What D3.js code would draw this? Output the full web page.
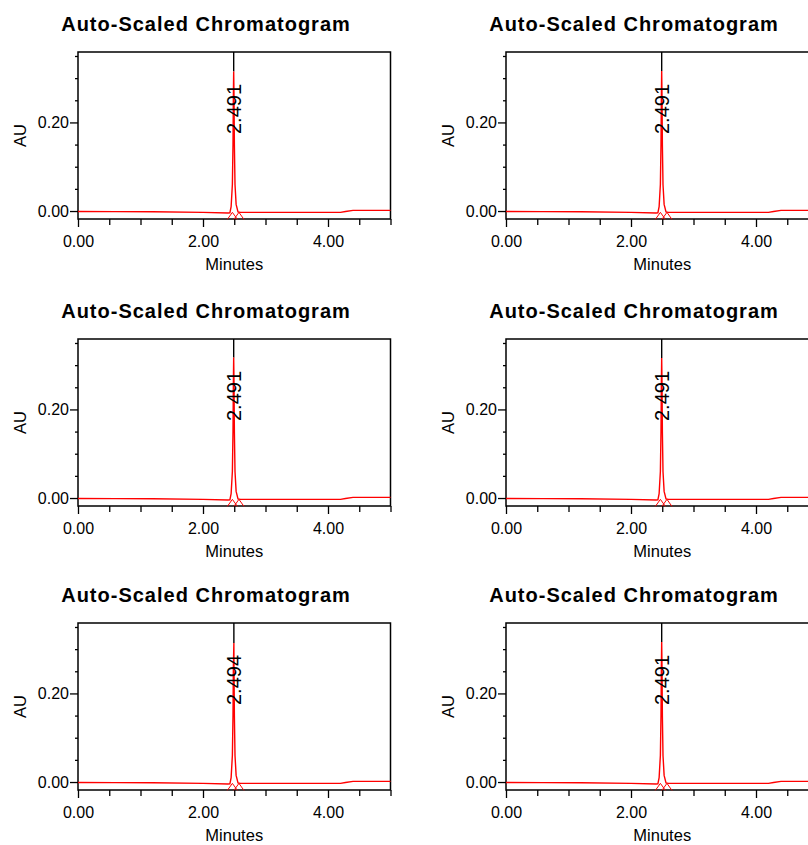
<!DOCTYPE html>
<html>
<head>
<meta charset="utf-8">
<script src="https://cdn.jsdelivr.net/npm/d3@7"></script>
<style>
  body { margin: 0; background: #fff; }
  svg { display: block; }
  text { font-family: "Liberation Sans", Arial, sans-serif; fill: #000; }
</style>
</head>
<body>
<svg id="chart" width="808" height="845"></svg>
<script>
// Six auto-scaled chromatograms (2 columns x 3 rows), one peak each.
var TITLE = "Auto-Scaled Chromatogram";
var X_LABEL = "Minutes", Y_LABEL = "AU";

// retention time label and apex height (AU) per panel, row by row
var PEAK_RT = [2.491, 2.491, 2.491, 2.491, 2.494, 2.491];
var PEAK_AU = [0.315, 0.316, 0.317, 0.316, 0.314, 0.316];

// trace (minutes / AU); the apex slot is filled per panel
var TRACE_MIN = [0.00, 0.60, 1.20, 2.00, 2.40, 2.43, 2.45, 2.47, 2.48, 2.486,
                 null, 2.496, 2.502, 2.512, 2.53, 2.56, 2.60, 3.50, 4.20, 4.28, 4.40, 5.00];
var TRACE_AU  = [-0.0012, -0.0014, -0.0018, -0.0030, -0.0045, -0.0040, 0.010, 0.060, 0.150, 0.260,
                 null, 0.260, 0.150, 0.060, 0.015, -0.002, -0.003, -0.003, -0.003, -0.001, 0.0015, 0.0015];

// peak start / end integration markers (minutes)
var MARK_MIN = [2.47, 2.575];

var X_DOMAIN = [0, 5], Y_DOMAIN = [-0.018, 0.359];
var X_MAJOR = [0, 2, 4], X_MINOR = [0.5, 1, 1.5, 2.5, 3, 3.5, 4.5, 5];
var Y_MAJOR = [0, 0.2], Y_MINOR = [0.05, 0.10, 0.15, 0.25, 0.30, 0.35];

// ---- layout ----------------------------------------------------------------
var COL_LEFT = [78, 506], ROW_TOP = [52, 339, 623];
var W = 312.5, H = 167;
var fmt = d3.format(".2f");
var svg = d3.select("#chart");

function drawPanel(i, left, top) {
  var g = svg.append("g").attr("transform", "translate(" + left + "," + top + ")");
  var x = d3.scaleLinear().domain(X_DOMAIN).range([0, W]);
  var y = d3.scaleLinear().domain(Y_DOMAIN).range([H, 0]);

  g.append("text").attr("x", 128).attr("y", -21).attr("text-anchor", "middle")
    .style("font-size", "20px").style("font-weight", "bold")
    .style("letter-spacing", "1px").text(TITLE);

  // axes: major labelled ticks + short unlabelled minors
  function style(a) {
    a.select(".domain").remove();
    a.selectAll("line").attr("stroke", "#000").attr("stroke-width", 1.3);
    a.selectAll("text").style("font-size", "16px").attr("fill", "#000");
  }
  var ax = g.append("g").attr("transform", "translate(0," + H + ")")
    .call(d3.axisBottom(x).tickValues(X_MAJOR).tickFormat(fmt).tickSize(8).tickSizeOuter(0));
  ax.call(style);
  ax.selectAll("text").attr("y", 28).attr("dy", null);
  g.append("g").attr("transform", "translate(0," + H + ")")
    .call(d3.axisBottom(x).tickValues(X_MINOR).tickFormat("").tickSize(6).tickSizeOuter(0))
    .call(style);
  g.append("g")
    .call(d3.axisLeft(y).tickValues(Y_MAJOR).tickFormat(fmt).tickSize(8).tickPadding(1).tickSizeOuter(0))
    .call(style);
  g.append("g")
    .call(d3.axisLeft(y).tickValues(Y_MINOR).tickFormat("").tickSize(3).tickSizeOuter(0))
    .call(style);

  g.append("text").attr("x", W / 2).attr("y", H + 51).attr("text-anchor", "middle")
    .style("font-size", "16.5px").text(X_LABEL);
  g.append("text").attr("transform", "translate(-52," + (H / 2) + ") rotate(-90)")
    .attr("text-anchor", "middle").style("font-size", "16.5px").text(Y_LABEL);

  // frame
  g.append("rect").attr("width", W).attr("height", H)
    .attr("fill", "none").attr("stroke", "#000").attr("stroke-width", 1.5);

  // retention-time marker line, down to the apex
  g.append("line").attr("x1", x(PEAK_RT[i])).attr("x2", x(PEAK_RT[i]))
    .attr("y1", 0).attr("y2", y(PEAK_AU[i])).attr("stroke", "#000").attr("stroke-width", 1.4);

  var pts = TRACE_MIN.map(function (t, k) {
    return t === null ? [PEAK_RT[i], PEAK_AU[i]] : [t, TRACE_AU[k]];
  });
  g.append("path").datum(pts)
    .attr("d", d3.line().x(function (d) { return x(d[0]); }).y(function (d) { return y(d[1]); }))
    .attr("fill", "none").attr("stroke", "#ff0000").attr("stroke-width", 1.4);

  MARK_MIN.forEach(function (t) {
    var cx = x(t), cy = y(-0.003);
    g.append("path")
      .attr("d", "M" + (cx - 5) + "," + (cy + 7) + "L" + cx + "," + cy + "L" + (cx + 5) + "," + (cy + 7))
      .attr("fill", "none").attr("stroke", "#ff0000").attr("stroke-width", 1);
  });

  g.append("text")
    .attr("transform", "translate(" + (x(PEAK_RT[i]) + 7.5) + ",82) rotate(-90)")
    .style("font-size", "20px").text(PEAK_RT[i].toFixed(3));
}

ROW_TOP.forEach(function (top, r) {
  COL_LEFT.forEach(function (left, c) { drawPanel(r * 2 + c, left, top); });
});
</script>
</body>
</html>
